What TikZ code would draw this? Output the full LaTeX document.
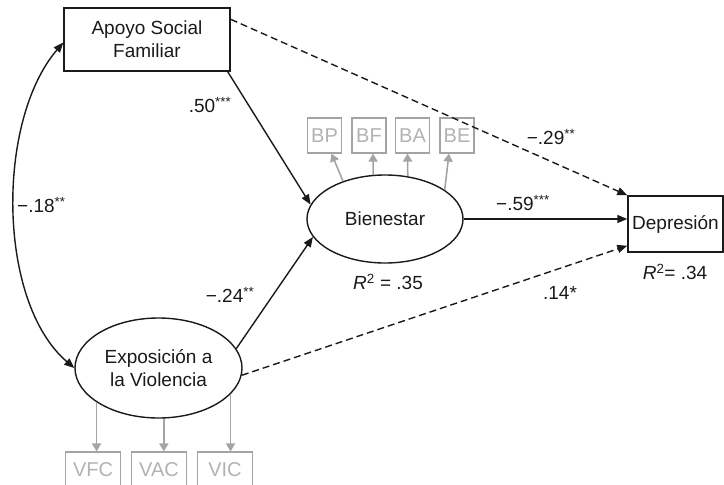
\documentclass[tikz,border=0pt]{standalone}
\usepackage{fontspec}
\setmainfont{Liberation Sans}
\usetikzlibrary{shapes.geometric,arrows.meta}

\definecolor{inkblack}{HTML}{1A1A1A}
\definecolor{indgray}{HTML}{A4A4A4}
\definecolor{indtext}{HTML}{B2B2B2}

\begin{document}
\begin{tikzpicture}[
    x=1pt, y=-1pt,
    font=\fontsize{19}{23}\selectfont,
    text=inkblack,
    obs/.style={
        rectangle,
        draw=inkblack,
        line width=1.4pt,
        inner sep=0pt,
        align=center
    },
    latent/.style={
        ellipse,
        draw=inkblack,
        line width=1.4pt,
        inner sep=0pt,
        align=center
    },
    ind/.style={
        rectangle,
        draw=indgray,
        line width=1.1pt,
        inner sep=0pt,
        text=indtext,
        font=\fontsize{20}{24}\selectfont
    },
    effect/.style={
        -{Triangle[length=10pt,width=8pt]},
        line width=1.4pt,
        draw=inkblack
    },
    dashpath/.style={
        effect,
        dash pattern=on 7pt off 4pt
    },
    indarrow/.style={
        -{Triangle[length=8pt,width=9pt]},
        line width=1.6pt,
        draw=indgray
    },
    coef/.style={
        inner sep=0pt
    }
]
\useasboundingbox (0,0) rectangle (724,485);

% Variables observadas y latentes
\node[obs, minimum width=166pt, minimum height=63pt] (apoyo) at (147,39.5) {Apoyo Social\\Familiar};
\node[obs, minimum width=95pt, minimum height=56pt] (dep) at (675.5,224) {Depresión};
\node[latent, minimum width=156pt, minimum height=88pt] (bien) at (385,219) {Bienestar};
\node[latent, minimum width=167pt, minimum height=100pt] (expo) at (158.5,368) {Exposición a\\la Violencia};

% Indicadores de Bienestar
\foreach \lab/\x/\ang/\dx in {BP/324.5/138/7, BF/369/105.4/4, BA/412.5/62.5/-5, BE/457/26.9/-8}{
    \node[ind, minimum width=34pt, minimum height=35pt] (\lab) at (\x,135.5) {\lab};
    \draw[indarrow] (bien.\ang) -- ([xshift=\dx pt]\lab.south);
}

% Indicadores de Exposicion a la Violencia
\foreach \lab/\x/\ang in {VFC/93/209.7, VAC/159/276.3, VIC/225/340.2}{
    \node[ind, minimum width=55pt, minimum height=35pt] (\lab) at (\x,469.5) {\lab};
    \draw[indarrow] (expo.\ang) -- (expo.\ang |- \lab.north);
}

% Relaciones
\draw[effect, {Triangle[length=10pt,width=8pt]}-{Triangle[length=10pt,width=8pt]}]
    ([yshift=-3pt]apoyo.west) .. controls (-4,121) and (-3,302) .. (expo.west);
\draw[effect] ([xshift=-3pt]apoyo.south east) -- (bien.169);
\draw[effect] (expo.14) -- (bien.194);
\draw[effect] (bien.east) -- (bien.east -| dep.west);
\draw[dashpath] ([yshift=-12pt]apoyo.north east) -- (dep.north west);
\draw[dashpath] (expo.-5) -- ([yshift=7pt]dep.south west);

% Coeficientes
\node[coef, anchor=west] (c18) at (17,205) {−.18\textsuperscript{**}};
\node[coef] (c50) at (210,105) {.50\textsuperscript{***}};
\node[coef] (c24) at (230,295) {−.24\textsuperscript{**}};
\node[coef] (c29) at (551,137) {−.29\textsuperscript{**}};
\node[coef] (c59) at (523,203) {−.59\textsuperscript{***}};
\node[coef] (c14) at (560,293) {.14*};
\node[coef] (r35) at (388,282) {\textit{R}\textsuperscript{2} = .35};
\node[coef] (r34) at (675,272) {\textit{R}\textsuperscript{2}= .34};

\end{tikzpicture}
\end{document}
